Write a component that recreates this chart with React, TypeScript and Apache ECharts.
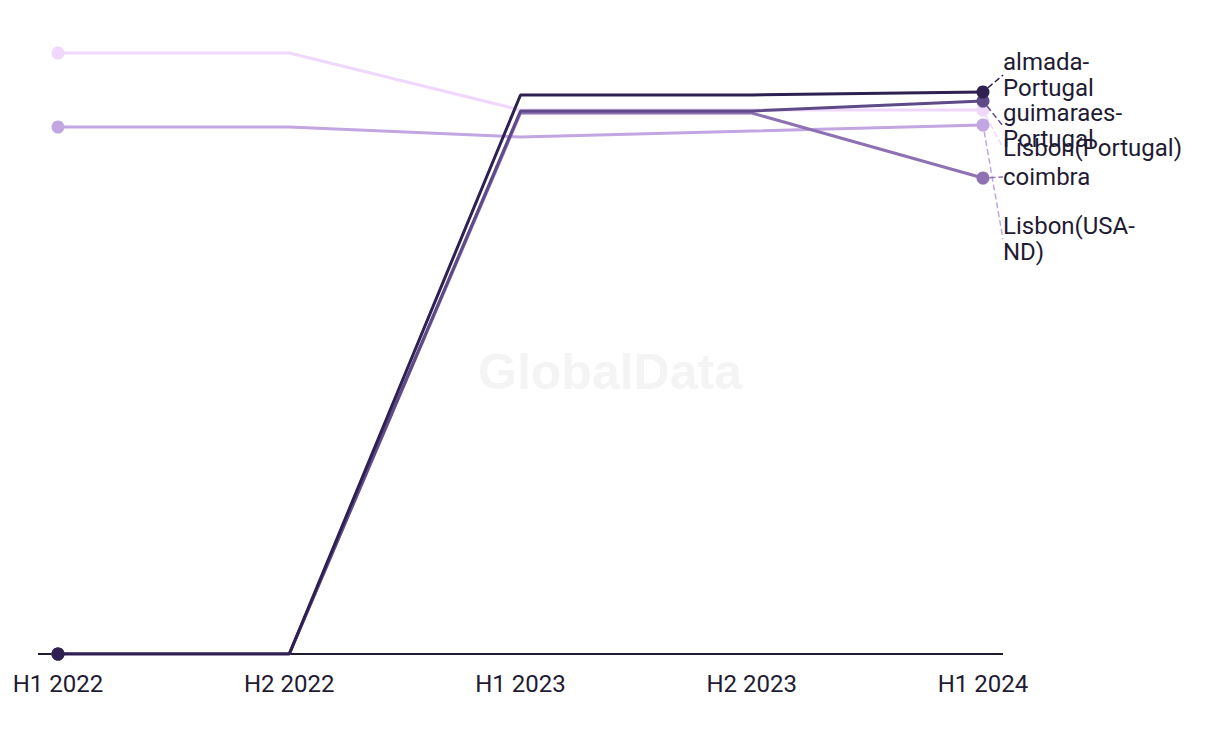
import React, { useEffect, useRef } from "react";
import * as echarts from "echarts";

const categories = ["H1 2022", "H2 2022", "H1 2023", "H2 2023", "H1 2024"];
const seriesNames = ["Lisbon(Portugal)", "Lisbon(USA-ND)", "coimbra", "guimaraes-Portugal", "almada-Portugal"];
const lisbonPortugal = [601, 601, 544, 544, 544];
const lisbonUsaNd = [527, 527, 517, 523, 529];
const coimbra = [0, 0, 541, 541, 476];
const guimaraes = [0, 0, 543, 543, 553];
const almada = [0, 0, 559, 559, 562];
const seriesValues = [lisbonPortugal, lisbonUsaNd, coimbra, guimaraes, almada];
const seriesColors = ["#efd8fb", "#c1a6e1", "#8d71b3", "#5d4a86", "#2e2050"];
// label centre positions (pixels) of the end labels, as laid out in the reference
const labelCentersY = [148, 239, 177, 126, 75];

export default function App() {
  const ref = useRef<HTMLDivElement>(null);
  useEffect(() => {
    if (!ref.current) return;
    const chart = echarts.init(ref.current, null, { renderer: "svg" });
    const last = categories.length - 1;
    const series = seriesNames.map((name, i) => ({
      name,
      type: "line",
      data: seriesValues[i].map((v, j) =>
        j === last ? { value: v, label: { show: true } } : v
      ),
      color: seriesColors[i],
      lineStyle: { width: 3, color: seriesColors[i] },
      itemStyle: { color: seriesColors[i] },
      symbol: "circle",
      showSymbol: true,
      showAllSymbol: true,
      symbolSize: (_v: any, p: any) => (p.dataIndex === 0 || p.dataIndex === last ? 13 : 0),
      label: {
        show: false,
        position: "right",
        distance: 14,
        fontSize: 24,
        lineHeight: 26,
        fontFamily: "Roboto, 'Liberation Sans', sans-serif",
        color: "#1f1b33",
        formatter: () => name.replace(/-/g, "-\n"),
      },
      labelLine: { show: true, lineStyle: { type: "dashed", width: 1.5, color: seriesColors[i] } },
      labelLayout: () => ({
        x: 1003,
        y: labelCentersY[i],
        align: "left",
        verticalAlign: "middle",
      }),
      emphasis: { disabled: true },
      z: 2 + i,
    }));
    chart.setOption({
      animation: false,
      backgroundColor: "#ffffff",
      grid: { left: 58, right: 237, top: 4, bottom: 90, containLabel: false },
      xAxis: {
        type: "category",
        data: categories,
        boundaryGap: false,
        axisLine: { show: false },
        axisTick: { show: false },
        axisLabel: {
          margin: 18,
          fontSize: 24,
          color: "#1f1b33",
          fontFamily: "Roboto, 'Liberation Sans', sans-serif",
        },
        splitLine: { show: false },
      },
      yAxis: {
        type: "value",
        min: 0,
        max: 650,
        show: false,
        splitLine: { show: false },
      },
      graphic: [
        {
          type: "text",
          left: "center",
          top: 347,
          z: 0,
          style: {
            text: "GlobalData",
            fontSize: 50,
            fontWeight: "bold",
            fontFamily: "'Liberation Sans', Arial, sans-serif",
            fill: "#f4f4f4",
          },
        },
        {
          type: "line",
          z: 1,
          shape: { x1: 38, y1: 654, x2: 1003, y2: 654 },
          style: { stroke: "#1f1b33", lineWidth: 2 },
        },
      ],
      series,
    });
    return () => chart.dispose();
  }, []);
  return (
    <div
      ref={ref}
      style={{ position: "fixed", left: 0, top: 0, width: 1220, height: 744, background: "#fff" }}
    />
  );
}
